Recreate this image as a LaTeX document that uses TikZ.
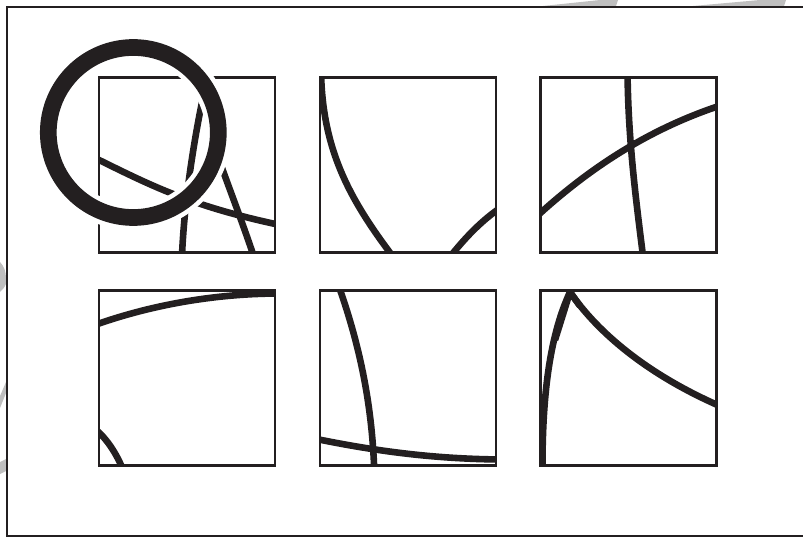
\documentclass[tikz,border=0pt]{standalone}
\usepackage{tikz}
\definecolor{ink}{HTML}{231F20}
\definecolor{wm}{HTML}{BFBFBF}
\begin{document}
\begin{tikzpicture}[x=1pt,y=-1pt,
  boxline/.style={draw=ink,line width=2.4pt},
  arcline/.style={draw=ink,line width=6.6pt},
  frameline/.style={draw=ink,line width=2pt},
  halo/.style={draw=white,line width=26pt},
  ringline/.style={draw=ink,line width=16.7pt},
  wmark/.style={fill=wm,draw=none}]
\useasboundingbox (0,0) rectangle (803,537);
% watermark fragments
\fill[wmark] (543,6) -- (600,0) -- (618,0) -- (616,6) -- cycle;
\fill[wmark] (693,6) -- (760,0) -- (786,0) -- (784,6) -- cycle;
\fill[wmark] (0,262) .. controls (4,266) and (6,272) .. (6,278) -- (6,284) .. controls (4,288) .. (0,292) -- cycle;
\fill[wmark] (0,396) -- (6,382) -- (6,393) -- (0,408) -- cycle;
\fill[wmark] (0,462) -- (6,459) -- (6,471) -- (0,474) -- cycle;
% frame
\draw[frameline] (810,7) -- (7,7) -- (7,535.7) -- (810,535.7);
% box coordinates
\coordinate (a1) at (99,77.5);  \coordinate (a2) at (275,252.5);
\coordinate (b1) at (320,77.5); \coordinate (b2) at (496,252.5);
\coordinate (c1) at (540.5,77.5); \coordinate (c2) at (716.5,252.5);
\coordinate (d1) at (99,290.5); \coordinate (d2) at (275,465.5);
\coordinate (e1) at (320,290.5); \coordinate (e2) at (496,465.5);
\coordinate (f1) at (540.5,290.5); \coordinate (f2) at (716.5,465.5);
% box A contents
\begin{scope}
\clip (a1) rectangle (a2);
\draw[arcline] (94,157.5) .. controls (150,185) and (190,206) .. (280,225);
\draw[arcline] (181.8,260) .. controls (184,200) and (195,130) .. (209,70);
\draw[arcline] (255,260) .. controls (240,215) and (225,178) .. (214,145);
\end{scope}
\draw[boxline] (a1) rectangle (a2);
% box B contents
\begin{scope}
\clip (b1) rectangle (b2);
\draw[arcline] (321,70) .. controls (322,150) and (350,200) .. (394,258);
\draw[arcline] (449,258) .. controls (465,238) and (480,222) .. (500,208);
\end{scope}
\draw[boxline] (b1) rectangle (b2);
% box C contents
\begin{scope}
\clip (c1) rectangle (c2);
\draw[arcline] (627.5,70) .. controls (628,140) and (636,200) .. (643.5,260);
\draw[arcline] (536,217) .. controls (585,172) and (645,130) .. (722,105);
\end{scope}
\draw[boxline] (c1) rectangle (c2);
% box D contents
\begin{scope}
\clip (d1) rectangle (d2);
\draw[arcline] (92,326) .. controls (150,305) and (215,293.5) .. (280,293.5);
\draw[arcline] (95,429) .. controls (106,438) and (116,452) .. (124,472);
\end{scope}
\draw[boxline] (d1) rectangle (d2);
% box E contents
\begin{scope}
\clip (e1) rectangle (e2);
\draw[arcline] (338,284) .. controls (358,340) and (372,400) .. (374.3,472);
\draw[arcline] (314,438.5) .. controls (370,450) and (430,459) .. (502,459.5);
\end{scope}
\draw[boxline] (e1) rectangle (e2);
% box F contents
\begin{scope}
\clip (f1) rectangle (f2);
\draw[arcline] (542.5,472) .. controls (542,390) and (551,333) .. (570,292);
\draw[arcline] (570,292) .. controls (598,333) and (648,375) .. (722,407);
\draw[ink,line width=6.6pt,line join=miter] (555,340) -- (570,292) -- (580,306);
\end{scope}
\draw[boxline] (f1) rectangle (f2);
% magnifier ring
\coordinate (ringc) at (133.3,132.5);
\draw[halo] (ringc) circle[radius=85];
\draw[ringline] (ringc) circle[radius=85];
\end{tikzpicture}
\end{document}
